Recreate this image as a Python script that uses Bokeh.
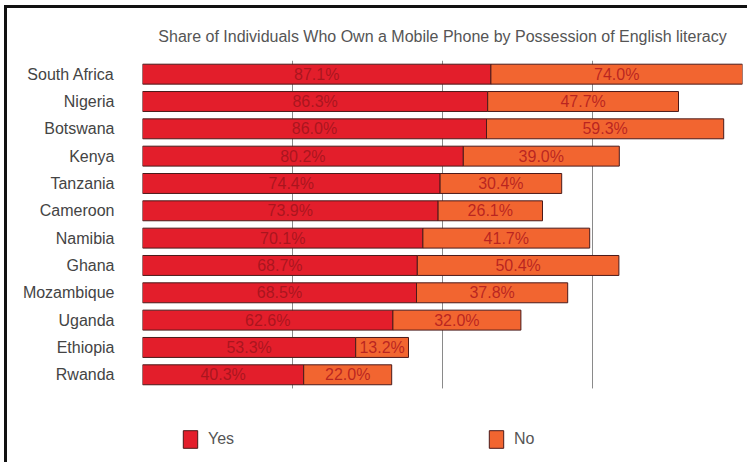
from bokeh.plotting import figure
from bokeh.models import (ColumnDataSource, Range1d, FixedTicker, Legend, LegendItem,
                          InlineStyleSheet)
from bokeh.core.properties import value
from bokeh.embed import file_html
from bokeh.resources import INLINE

countries = ["South Africa", "Nigeria", "Botswana", "Kenya", "Tanzania", "Cameroon",
             "Namibia", "Ghana", "Mozambique", "Uganda", "Ethiopia", "Rwanda"]
yes_vals = [87.1, 86.3, 86.0, 80.2, 74.4, 73.9, 70.1, 68.7, 68.5, 62.6, 53.3, 40.3]
no_vals = [74.0, 47.7, 59.3, 39.0, 30.4, 26.1, 41.7, 50.4, 37.8, 32.0, 13.2, 22.0]
grid_ticks = [37.5, 75, 112.5]
x_max = 150
title_text = "Share of Individuals Who Own a Mobile Phone by Possession of English literacy"

YES_COLOR = "#E31E2B"
NO_COLOR = "#F26530"
FONT = "Liberation Sans"

n = len(countries)
ypos = [n - 1 - i for i in range(n)]          # South Africa on top
y_top = n - 0.5
y_bottom = -3.21                               # room below the bars for the legend

no_right = [min(y + v, x_max) for y, v in zip(yes_vals, no_vals)]
src = ColumnDataSource(dict(
    y=ypos,
    yes=yes_vals,
    no=no_vals,
    zero=[0] * n,
    no_right=no_right,
    yes_mid=[y / 2 for y in yes_vals],
    no_mid=[(y + r) / 2 for y, r in zip(yes_vals, no_right)],
    yes_lbl=[f"{v:.1f}%" for v in yes_vals],
    no_lbl=[f"{v:.1f}%" for v in no_vals],
))

p = figure(width=747, height=462, output_backend="svg", toolbar_location=None,
           y_range=Range1d(y_bottom, y_top), x_range=Range1d(0, x_max),
           min_border_left=142, min_border_right=5, min_border_top=60, min_border_bottom=0)
p.outline_line_color = None
p.background_fill_color = "white"
p.border_fill_color = "white"
p.stylesheets = [InlineStyleSheet(css="""
:host { position: relative; }
:host::after {
  content: ""; position: absolute; left: 4px; top: 5px; right: 0; bottom: 0;
  border-left: 3px solid #111111; border-top: 3px solid #111111;
  pointer-events: none; z-index: 100;
}
""")]

p.title.text = title_text
p.title.align = "center"
p.title.text_font = FONT
p.title.text_font_size = "16px"
p.title.text_font_style = "normal"
p.title.text_color = "#555555"
p.title.standoff = 32

# grid lines spanning only the bar rows
p.segment(x0=grid_ticks, x1=grid_ticks, y0=[-0.5] * len(grid_ticks), y1=[y_top] * len(grid_ticks),
          line_color="#8a8a8a", line_width=1)

r_yes = p.hbar(y="y", left="zero", right="yes", height=0.73, source=src,
               fill_color=YES_COLOR, line_color="#4a1a1a", line_width=1)
r_no = p.hbar(y="y", left="yes", right="no_right", height=0.73, source=src,
              fill_color=NO_COLOR, line_color="#4a1a1a", line_width=1)

p.text(x="yes_mid", y="y", text="yes_lbl", source=src,
       text_align="center", text_baseline="middle", text_font=value(FONT),
       text_font_size="16px", text_color="#A0141C", text_alpha=0.85)
p.text(x="no_mid", y="y", text="no_lbl", source=src,
       text_align="center", text_baseline="middle", text_font=value(FONT),
       text_font_size="16px", text_color="#B0181E", text_alpha=0.85)

p.xaxis.visible = False
p.xgrid.grid_line_color = None
p.ygrid.grid_line_color = None

p.yaxis.ticker = FixedTicker(ticks=ypos)
p.yaxis.major_label_overrides = {y: c for y, c in zip(ypos, countries)}
p.yaxis.axis_line_color = None
p.yaxis.major_tick_line_color = None
p.yaxis.minor_tick_line_color = None
p.yaxis.major_tick_in = 0
p.yaxis.major_tick_out = 0
p.yaxis.minor_tick_in = 0
p.yaxis.minor_tick_out = 0
p.yaxis.major_label_standoff = 28
p.yaxis.major_label_text_font = FONT
p.yaxis.major_label_text_font_size = "16px"
p.yaxis.major_label_text_color = "#444444"

legend = Legend(items=[LegendItem(label="Yes", renderers=[r_yes]),
                       LegendItem(label="No", renderers=[r_no])],
                orientation="horizontal", location=(39, 12),
                glyph_width=18, glyph_height=22, label_standoff=9, label_width=80,
                spacing=199, padding=0, margin=0,
                border_line_color=None, background_fill_alpha=0,
                label_text_font=FONT, label_text_font_size="16px", label_text_color="#555555")
p.add_layout(legend, "center")

open("out.html", "w").write(file_html(p, INLINE))
